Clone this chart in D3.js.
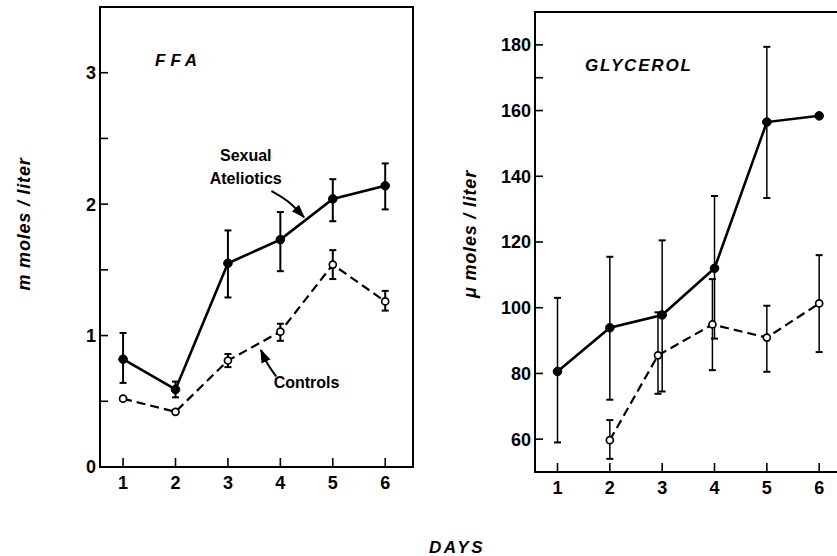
<!DOCTYPE html>
<html>
<head>
<meta charset="utf-8">
<script src="https://cdn.jsdelivr.net/npm/d3@7"></script>
<style>
  body { margin: 0; background: #fff; }
  svg { display: block; font-family: "Liberation Sans", Arial, sans-serif; }
</style>
</head>
<body>
<div id="chart"></div>
<script>
// Data
const days = [1, 2, 3, 4, 5, 6];

// FFA (m moles / liter)
const ffaAteliotics = [0.82, 0.59, 1.55, 1.73, 2.04, 2.14];
const ffaAteliLow   = [0.64, 0.53, 1.29, 1.49, 1.87, 1.96];
const ffaAteliHigh  = [1.02, 0.65, 1.80, 1.94, 2.19, 2.31];
const ffaControls   = [0.52, 0.42, 0.81, 1.03, 1.54, 1.26];
const ffaCtrlLow    = [null, null, 0.76, 0.96, 1.43, 1.19];
const ffaCtrlHigh   = [null, null, 0.86, 1.09, 1.65, 1.34];

// Glycerol (micro moles / liter)
const glyAteliotics = [80.6, 93.9, 97.8, 112, 156.5, 158.4];
const glyAteliLow   = [59, 72, 74.5, 90.6, 133.4, null];
const glyAteliHigh  = [103, 115.5, 120.5, 134, 179.4, null];
const glyCtrlDays   = [2, 2.92, 3.96, 5, 6];
const glyControls   = [59.7, 85.5, 94.9, 90.9, 101.3];
const glyCtrlLow    = [54, 73.8, 81, 80.5, 86.5];
const glyCtrlHigh   = [65.8, 98.6, 108.7, 100.6, 116];

const ffaTicks = [0, 0.5, 1, 1.5, 2, 2.5, 3];
const ffaLabels = [0, 1, 2, 3];
const glyTicks = [60, 80, 100, 120, 140, 160, 170, 180];
const glyLabels = [60, 80, 100, 120, 140, 160, 180];

const width = 837, height = 556;
const svg = d3.select("#chart").append("svg")
  .attr("width", width).attr("height", height);

const toSeries = (xs, ys, lo, hi) => xs.map((x, i) => ({ x, y: ys[i], lo: lo[i], hi: hi[i] }));

function drawPanel(cfg) {
  const { x, y } = cfg;
  const [xl, xr] = x.range();
  const [yb, yt] = y.range();
  const g = svg.append("g");

  // frame
  g.append("path")
    .attr("d", cfg.closed
      ? `M${xl},${yt}H${xr}V${yb}H${xl}Z`
      : `M${xr},${yt}H${xl}V${yb}H${xr}`)
    .attr("fill", "none").attr("stroke", "#000").attr("stroke-width", 2);

  // y ticks (inward)
  g.selectAll(".yt").data(cfg.yTicks).join("line")
    .attr("x1", xl).attr("x2", xl + 8)
    .attr("y1", d => y(d)).attr("y2", d => y(d))
    .attr("stroke", "#000").attr("stroke-width", 1.6);
  g.selectAll(".yl").data(cfg.yLabels).join("text")
    .attr("x", xl - 4).attr("y", d => y(d)).attr("dy", "0.36em")
    .attr("text-anchor", "end").attr("font-size", 18).attr("font-weight", "bold")
    .text(d => d);

  // x ticks (inward)
  g.selectAll(".xt").data(days).join("line")
    .attr("x1", d => x(d)).attr("x2", d => x(d))
    .attr("y1", yb).attr("y2", yb - 9)
    .attr("stroke", "#000").attr("stroke-width", 1.6);
  g.selectAll(".xl").data(days).join("text")
    .attr("x", d => x(d)).attr("y", yb + 22)
    .attr("text-anchor", "middle").attr("font-size", 18).attr("font-weight", "bold")
    .text(d => d);

  const line = d3.line().x(d => x(d.x)).y(d => y(d.y));

  cfg.series.forEach(s => {
    // error bars
    const eb = s.data.filter(d => d.lo != null);
    g.selectAll(null).data(eb).join("line")
      .attr("x1", d => x(d.x)).attr("x2", d => x(d.x))
      .attr("y1", d => y(d.lo)).attr("y2", d => y(d.hi))
      .attr("stroke", "#000").attr("stroke-width", cfg.errWidth);
    ["lo", "hi"].forEach(k => {
      g.selectAll(null).data(eb).join("line")
        .attr("x1", d => x(d.x) - 3.5).attr("x2", d => x(d.x) + 3.5)
        .attr("y1", d => y(d[k])).attr("y2", d => y(d[k]))
        .attr("stroke", "#000").attr("stroke-width", 2);
    });

    g.append("path").datum(s.data)
      .attr("d", line).attr("fill", "none").attr("stroke", "#000")
      .attr("stroke-width", s.filled ? 2.6 : 2.2)
      .attr("stroke-dasharray", s.filled ? null : "9,5");

    g.selectAll(null).data(s.data).join("circle")
      .attr("cx", d => x(d.x)).attr("cy", d => y(d.y))
      .attr("r", s.filled ? 4.3 : 3.5)
      .attr("fill", s.filled ? "#000" : "#fff")
      .attr("stroke", "#000").attr("stroke-width", s.filled ? 1 : 1.7);
  });

  g.append("text")
    .attr("x", cfg.title.x).attr("y", cfg.title.y)
    .attr("font-size", cfg.title.size).attr("font-weight", "bold").attr("font-style", "italic")
    .attr("letter-spacing", cfg.title.spacing)
    .text(cfg.title.text);

  g.append("text")
    .attr("transform", `translate(${cfg.ylab.x},${cfg.ylab.y}) rotate(-90)`)
    .attr("text-anchor", "middle").attr("font-size", 18)
    .attr("font-weight", "bold").attr("font-style", "italic")
    .attr("letter-spacing", 0.8)
    .text(cfg.ylab.text);

  return g;
}

// FFA panel
const xF = d3.scaleLinear().domain([0.56, 6.53]).range([100, 413]);
const yF = d3.scaleLinear().domain([0, 3.5]).range([467, 7]);
const gF = drawPanel({
  x: xF, y: yF, closed: true, errWidth: 2,
  yTicks: ffaTicks, yLabels: ffaLabels,
  series: [
    { filled: true, data: toSeries(days, ffaAteliotics, ffaAteliLow, ffaAteliHigh) },
    { filled: false, data: toSeries(days, ffaControls, ffaCtrlLow, ffaCtrlHigh) }
  ],
  title: { text: "FFA", x: 155, y: 66, size: 17, spacing: 5 },
  ylab: { text: "m moles / liter", x: 30, y: 224 }
});

// Glycerol panel
const xG = d3.scaleLinear().domain([0.57, 6.57]).range([535, 849]);
const yG = d3.scaleLinear().domain([50, 190]).range([472, 12]);
drawPanel({
  x: xG, y: yG, closed: false, errWidth: 1.5,
  yTicks: glyTicks, yLabels: glyLabels,
  series: [
    { filled: true, data: toSeries(days, glyAteliotics, glyAteliLow, glyAteliHigh) },
    { filled: false, data: toSeries(glyCtrlDays, glyControls, glyCtrlLow, glyCtrlHigh) }
  ],
  title: { text: "GLYCEROL", x: 585, y: 71, size: 17, spacing: 1.8 },
  ylab: { text: "\u03bc moles / liter", x: 476, y: 234 }
});

// annotations in the FFA panel
const label = (t, x, y) => gF.append("text")
  .attr("x", x).attr("y", y).attr("text-anchor", "middle")
  .attr("font-size", 16).attr("font-weight", "bold").text(t);
label("Sexual", xF(3.34), yF(2.33));
label("Ateliotics", xF(3.34), yF(2.15));
label("Controls", xF(4.5), yF(0.6));

svg.append("defs").append("marker")
  .attr("id", "arrow").attr("viewBox", "0 0 10 10")
  .attr("refX", 9).attr("refY", 5)
  .attr("markerWidth", 7).attr("markerHeight", 7)
  .attr("orient", "auto-start-reverse")
  .append("path").attr("d", "M0,1.5L10,5L0,8.5Z").attr("fill", "#000");

const arrow = (pts) => gF.append("path")
  .attr("d", d3.line().curve(d3.curveBasis).x(d => xF(d[0])).y(d => yF(d[1]))(pts))
  .attr("fill", "none").attr("stroke", "#000").attr("stroke-width", 2)
  .attr("marker-end", "url(#arrow)");
arrow([[3.83, 2.10], [4.15, 2.03], [4.45, 1.90]]);
arrow([[3.92, 0.69], [3.75, 0.78], [3.63, 0.89]]);

svg.append("text")
  .attr("x", 457).attr("y", 553).attr("text-anchor", "middle")
  .attr("font-size", 17).attr("font-weight", "bold").attr("font-style", "italic")
  .attr("letter-spacing", 2.5)
  .text("DAYS");
</script>
</body>
</html>
